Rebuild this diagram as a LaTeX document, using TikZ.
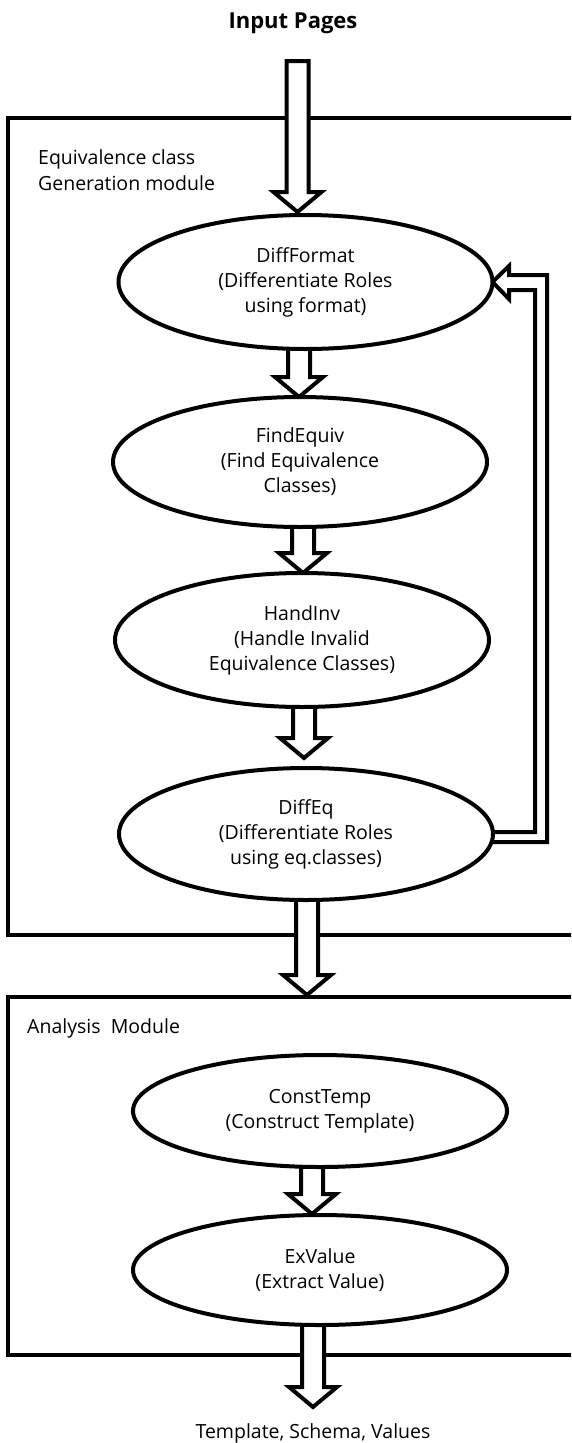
\documentclass[tikz,border=0pt]{standalone}
\usepackage{fontspec}
\setmainfont{Open Sans}
\usetikzlibrary{shapes.geometric,calc}
\begin{document}
\begin{tikzpicture}[x=1pt,y=-1pt,
  modbox/.style={draw, line width=4pt, inner sep=0pt, outer sep=0pt, anchor=north west},
  stage/.style={ellipse, draw, line width=4pt, fill=white, inner sep=0pt, outer sep=0pt,
    minimum width=374pt, align=center, font=\fontsize{19.5}{25}\selectfont},
  blockarrow/.style={draw, line width=4pt, fill=white, line join=miter,
    to path={let \p1=(\tikztostart), \p2=(\tikztotarget) in
      (\x1-11pt,\y1) -- (\x1-11pt,\y2+20pt) -- (\x1-24pt,\y2+20pt) -- (\x2,\y2)
      -- (\x1+24pt,\y2+20pt) -- (\x1+11pt,\y2+20pt) -- (\x1+11pt,\y1) -- cycle}},
  fbarrow/.style={draw, line width=4pt, fill=white, line join=miter},
  lbl/.style={font=\fontsize{19.5}{26}\selectfont, align=left, inner sep=0pt, anchor=west},
  ttl/.style={inner sep=0pt, anchor=base}]
\useasboundingbox (0,0) rectangle (571,1443);
\clip (0,0) rectangle (571,1443);

% module boxes
\node[modbox, minimum width=620pt, minimum height=817pt] (box1) at (8,118) {};
\node[modbox, minimum width=620pt, minimum height=358pt] (box2) at (8,997) {};

% titles and labels
\node[ttl, font=\fontsize{22}{26}\selectfont\bfseries] (title) at (293,28.5) {Input Pages};
\node[lbl] (lab1) at (38,170) {Equivalence class\\Generation module};
\node[lbl] (lab2) at (27,1028) {Analysis\ \ Module};
\node[ttl, font=\fontsize{19.5}{25}\selectfont] (out) at (313,1438) {Template, Schema, Values};

% stage positions (anchors for connectors)
\path (305.5,282) node[stage, minimum height=134pt, draw=none, fill=none] (e1) {}
      (300,462)   node[stage, minimum height=130pt, draw=none, fill=none] (e2) {}
      (302,640)   node[stage, minimum height=134pt, draw=none, fill=none] (e3) {}
      (306,834)   node[stage, minimum height=132pt, draw=none, fill=none] (e4) {}
      (320,1111)  node[stage, minimum height=112pt, draw=none, fill=none] (e5) {}
      (320,1270)  node[stage, minimum height=110pt, draw=none, fill=none] (e6) {};

% arrow end points
\coordinate (a0s) at (297.5,61);  \coordinate (a0t) at (297.5,212);
\coordinate (a1s) at (299,335);   \coordinate (a1t) at (299,397);
\coordinate (a2s) at (303,515);   \coordinate (a2t) at (303,573);
\coordinate (a3s) at (304,695);   \coordinate (a3t) at (304,758);
\coordinate (a4s) at (307,890);   \coordinate (a4t) at (307,995);
\coordinate (a5s) at (312,1160);  \coordinate (a5t) at (312,1214);
\coordinate (a6s) at (313,1318);  \coordinate (a6t) at (313,1407);

% feedback arrow DiffEq -> DiffFormat
\draw[fbarrow] (478,842) -- (547,842) -- (547,275) -- (509,275) -- (509,266)
  -- (e1.east) -- (509,299) -- (509,290) -- (535,290) -- (535,832) -- (478,832);

% block arrows
\draw[blockarrow] (a0s) to (a0t);
\draw[blockarrow] (a1s) to (a1t);
\draw[blockarrow] (a2s) to (a2t);
\draw[blockarrow] (a3s) to (a3t);
\draw[blockarrow] (a4s) to (a4t);
\draw[blockarrow] (a5s) to (a5t);
\draw[blockarrow] (a6s) to (a6t);

% visible stages
\node[stage, minimum height=134pt] (s1) at (e1) {DiffFormat\\(Differentiate Roles\\using format)};
\node[stage, minimum height=130pt] (s2) at (e2) {FindEquiv\\(Find Equivalence\\Classes)};
\node[stage, minimum height=134pt] (s3) at (e3) {HandInv\\(Handle Invalid\\Equivalence Classes)};
\node[stage, minimum height=132pt] (s4) at (e4) {DiffEq\\(Differentiate Roles\\using eq.classes)};
\node[stage, minimum height=112pt] (s5) at (e5) {ConstTemp\\(Construct Template)};
\node[stage, minimum height=110pt] (s6) at (e6) {ExValue\\(Extract Value)};
\end{tikzpicture}
\end{document}
